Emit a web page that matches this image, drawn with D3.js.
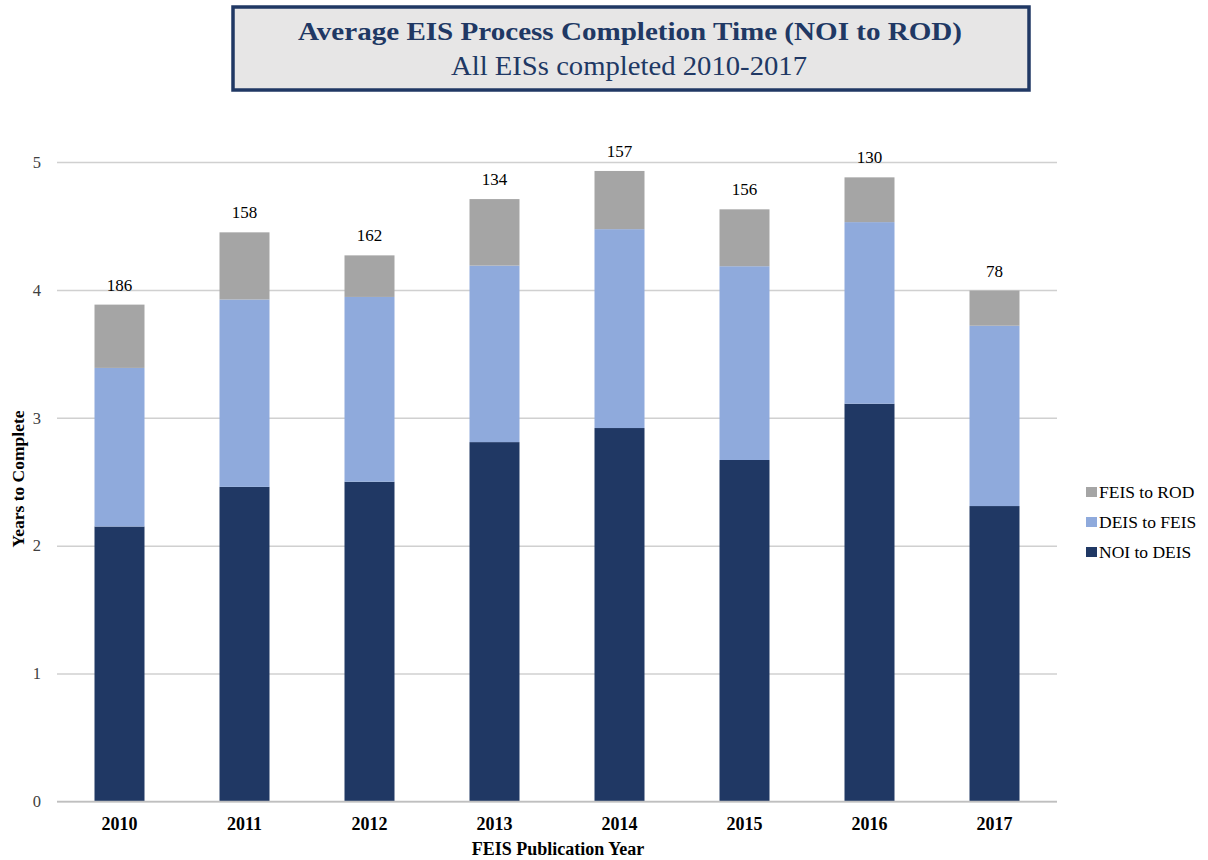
<!DOCTYPE html>
<html>
<head>
<meta charset="utf-8">
<script src="https://cdn.jsdelivr.net/npm/d3@7"></script>
<style>
  body { margin: 0; background: #fff; }
  svg { display: block; }
  svg text { font-family: 'Liberation Serif', 'Times New Roman', serif; }
</style>
</head>
<body>
<svg id="chart" width="1208" height="860"></svg>
<script>
const years = ["2010", "2011", "2012", "2013", "2014", "2015", "2016", "2017"];
const noiToDeis = [2.15, 2.46, 2.50, 2.81, 2.92, 2.67, 3.11, 2.31];
const deisToFeis = [1.24, 1.465, 1.445, 1.38, 1.555, 1.515, 1.42, 1.41];
const feisToRod = [0.495, 0.525, 0.325, 0.52, 0.455, 0.445, 0.35, 0.275];
const counts = [186, 158, 162, 134, 157, 156, 130, 78];
const yTicks = [0, 1, 2, 3, 4, 5];
const seriesNames = ["NOI to DEIS", "DEIS to FEIS", "FEIS to ROD"];
const seriesColors = ["#203864", "#8faadc", "#a5a5a5"];

const FONT = "'Liberation Serif', 'Times New Roman', serif";
const svg = d3.select("#chart");
const margin = { left: 57, right: 1057, top: 162, bottom: 801.5 };

const rows = years.map((y, i) => ({
  year: y,
  "NOI to DEIS": noiToDeis[i],
  "DEIS to FEIS": deisToFeis[i],
  "FEIS to ROD": feisToRod[i],
  count: counts[i]
}));

const x = d3.scaleBand().domain(years).range([margin.left, margin.right]).paddingInner(0.6).paddingOuter(0.3);
const y = d3.scaleLinear().domain([0, 5]).range([margin.bottom, margin.top]);

// Title box
svg.append("rect")
  .attr("x", 233).attr("y", 7).attr("width", 796).attr("height", 83)
  .attr("fill", "#e7e6e6").attr("stroke", "#203864").attr("stroke-width", 3.5);
svg.append("text").attr("x", 630).attr("y", 39.5)
  .attr("text-anchor", "middle").attr("font-size", 25).attr("font-weight", "bold")
  .style("font-family", FONT)
  .attr("textLength", 664).attr("lengthAdjust", "spacingAndGlyphs")
  .attr("fill", "#203864").text("Average EIS Process Completion Time (NOI to ROD)");
svg.append("text").attr("x", 629).attr("y", 75)
  .attr("text-anchor", "middle").attr("font-size", 27)
  .style("font-family", FONT)
  .attr("textLength", 356).attr("lengthAdjust", "spacingAndGlyphs")
  .attr("fill", "#203864").text("All EISs completed  2010-2017");

// Gridlines + y tick labels
const yAxis = d3.axisLeft(y).tickValues(yTicks).tickSize(-(margin.right - margin.left)).tickFormat(d3.format("d"));
const gY = svg.append("g").attr("transform", `translate(${margin.left},0)`).call(yAxis);
gY.attr("font-family", null);
gY.select(".domain").remove();
gY.selectAll(".tick line").attr("stroke", "#d0d0d0").attr("stroke-width", 1.5);
gY.selectAll(".tick text").attr("x", -16).attr("font-size", 16.5).attr("fill", "#404040")
  .style("font-family", FONT);

// Bars
const stack = d3.stack().keys(seriesNames);
const layers = stack(rows);
svg.append("g").selectAll("g").data(layers).join("g")
  .attr("fill", (d, i) => seriesColors[i])
  .selectAll("rect").data(d => d).join("rect")
  .attr("x", d => x(d.data.year))
  .attr("width", x.bandwidth())
  .attr("y", d => y(d[1]))
  .attr("height", d => y(d[0]) - y(d[1]));

// Baseline
svg.append("line").attr("x1", margin.left).attr("x2", margin.right)
  .attr("y1", y(0)).attr("y2", y(0)).attr("stroke", "#bfbfbf").attr("stroke-width", 1.5);

// Count labels
const totals = rows.map(r => r["NOI to DEIS"] + r["DEIS to FEIS"] + r["FEIS to ROD"]);
svg.append("g").selectAll("text").data(rows).join("text")
  .attr("x", d => x(d.year) + x.bandwidth() / 2)
  .attr("y", (d, i) => y(totals[i]) - 14)
  .attr("text-anchor", "middle").attr("font-size", 17).attr("fill", "#000")
  .style("font-family", FONT)
  .text(d => d.count);

// X axis labels
const xAxis = d3.axisBottom(x).tickSize(0).tickPadding(14);
const gX = svg.append("g").attr("transform", `translate(0,${y(0)})`).call(xAxis);
gX.attr("font-family", null);
gX.select(".domain").remove();
gX.selectAll(".tick text").attr("font-size", 18).attr("font-weight", "bold").attr("fill", "#000")
  .style("font-family", FONT).attr("dy", null).attr("y", 28);

// Axis titles
svg.append("text").attr("x", (margin.left + margin.right) / 2 + 1).attr("y", 854.5)
  .attr("text-anchor", "middle").attr("font-size", 18).attr("font-weight", "bold")
  .style("font-family", FONT)
  .text("FEIS Publication Year");
svg.append("text").attr("transform", "translate(23.5,479) rotate(-90)")
  .attr("text-anchor", "middle").attr("font-size", 17.5).attr("font-weight", "bold")
  .style("font-family", FONT)
  .text("Years to Complete");

// Legend
const legendItems = [
  { name: "FEIS to ROD", color: seriesColors[2], y: 492 },
  { name: "DEIS to FEIS", color: seriesColors[1], y: 522 },
  { name: "NOI to DEIS", color: seriesColors[0], y: 552 }
];
const lg = svg.append("g").selectAll("g").data(legendItems).join("g");
lg.append("rect").attr("x", 1086).attr("y", d => d.y - 5).attr("width", 11).attr("height", 10).attr("fill", d => d.color);
lg.append("text").attr("x", 1099).attr("y", d => d.y + 6).attr("font-size", 17.5).attr("fill", "#000")
  .style("font-family", FONT).text(d => d.name);
</script>
</body>
</html>
